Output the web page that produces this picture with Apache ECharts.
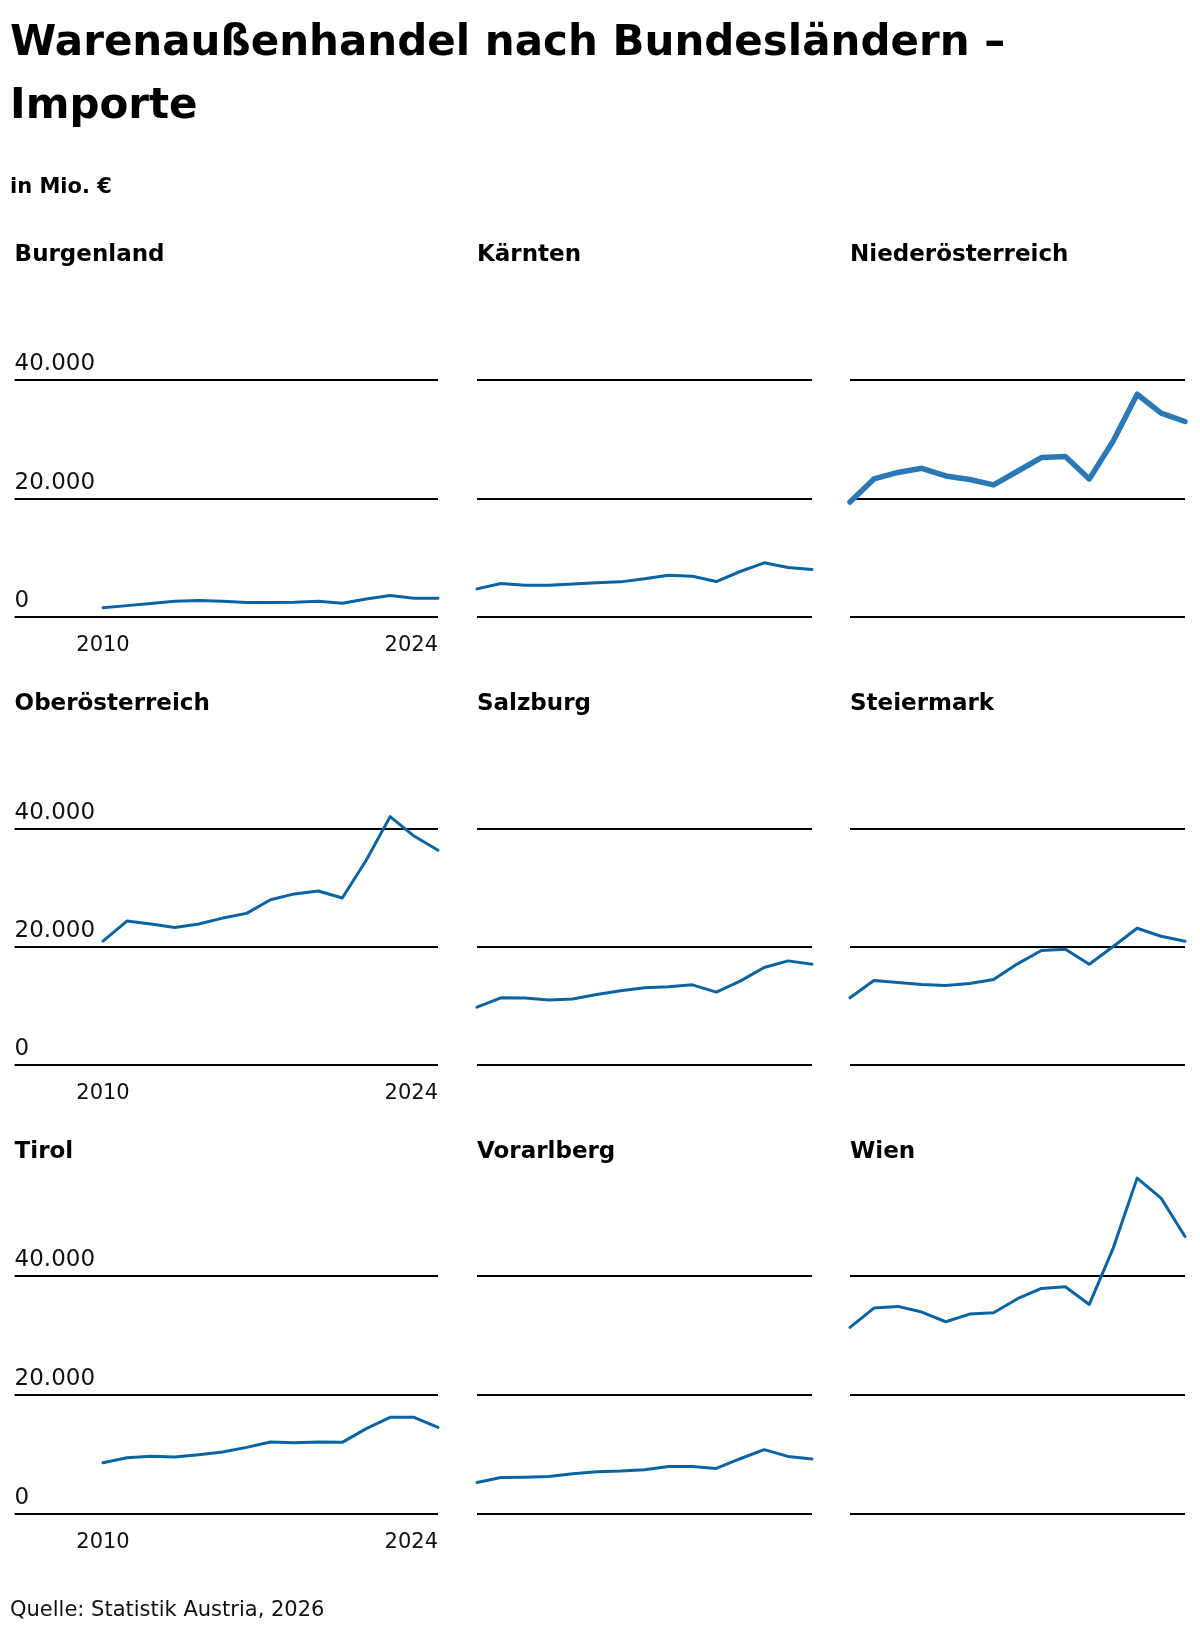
<!DOCTYPE html>
<html>
<head>
<meta charset="utf-8">
<script src="https://cdn.jsdelivr.net/npm/echarts@6/dist/echarts.min.js"></script>
<style>
html,body{margin:0;padding:0;background:#ffffff;}
#chart{width:1200px;height:1638px;}
</style>
</head>
<body>
<div id="chart"></div>
<script>
// ---------- data ----------
const years = [2010,2011,2012,2013,2014,2015,2016,2017,2018,2019,2020,2021,2022,2023,2024];
const regions = ['Burgenland','Kärnten','Niederösterreich','Oberösterreich','Salzburg','Steiermark','Tirol','Vorarlberg','Wien'];
const burgenland      = [1580,1920,2260,2650,2770,2650,2430,2430,2490,2650,2320,3050,3620,3160,3160];
const kaernten        = [4750,5650,5370,5370,5590,5760,5930,6440,7060,6890,5990,7680,9150,8360,8020];
const niederoesterreich = [19400,23300,24400,25100,23800,23200,22300,24600,26900,27100,23300,29700,37600,34400,33000];
const oberoesterreich = [21000,24400,23900,23300,23900,24900,25700,28000,29000,29500,28300,34700,42100,38800,36400];
const salzburg        = [9810,11390,11340,11000,11170,11960,12580,13090,13250,13590,12350,14210,16530,17650,17090];
const steiermark      = [11390,14330,13990,13650,13480,13820,14500,17150,19400,19630,17090,20080,23180,21830,20980];
const tirol           = [8620,9460,9690,9580,9970,10420,11200,12100,11980,12100,12040,14340,16240,16240,14560];
const vorarlberg      = [5290,6140,6190,6310,6760,7090,7210,7430,8000,8000,7660,9290,10810,9680,9230];
const wien            = [31360,34610,34890,33940,32310,33600,33820,36180,37910,38190,35220,44690,56450,53090,46650];
const seriesValues = [burgenland,kaernten,niederoesterreich,oberoesterreich,salzburg,steiermark,tirol,vorarlberg,wien];
const yTicks = [0, 20000, 40000];
const xTickLabels = [2010, 2024];
const highlighted = 'Niederösterreich';

// ---------- layout ----------
const cols = [
  {left: 14.6, right: 438, dataStart: 103},
  {left: 477,  right: 812, dataStart: 477},
  {left: 850,  right: 1185, dataStart: 850}
];
const rows = [
  {top: 380, bottom: 617, titleTop: 244},
  {top: 829, bottom: 1065, titleTop: 693},
  {top: 1276, bottom: 1514, titleTop: 1141}
];
const FONT = '"DejaVu Sans", sans-serif';
const LINE_COLOR = '#0a64a2';
const HL_COLOR = '#2a79b6';

function fmt(v){ return String(v).replace(/\B(?=(\d{3})+(?!\d))/g, '.'); }

const grids = [], xAxes = [], yAxes = [], series = [];
const titles = [
  {text: 'Warenaußenhandel nach Bundesländern –\nImporte', left: 10, top: 13, padding: 0,
   textStyle: {fontFamily: FONT, fontWeight: 'bold', fontSize: 42, lineHeight: 63, color: '#000'}},
  {text: 'in Mio. €', left: 10, top: 177, padding: 0,
   textStyle: {fontFamily: FONT, fontWeight: 'bold', fontSize: 21, color: '#000'}},
  {text: 'Quelle: Statistik Austria, 2026', left: 10, top: 1600, padding: 0,
   textStyle: {fontFamily: FONT, fontWeight: 'normal', fontSize: 21, color: '#111'}}
];

regions.forEach((name, i) => {
  const c = cols[i % 3], r = rows[Math.floor(i / 3)];
  const first = (i % 3) === 0;
  const width = c.right - c.left;
  const step = (c.right - c.dataStart) / (years.length - 1);
  const xMin = years[0] - (c.dataStart - c.left) / step;
  grids.push({left: c.left, top: r.top, width: width, height: r.bottom - r.top, containLabel: false});
  titles.push({text: name, left: c.left, top: r.titleTop, padding: 0,
    textStyle: {fontFamily: FONT, fontWeight: 'bold', fontSize: 23, color: '#000'}});
  xAxes.push({
    type: 'value', gridIndex: i, min: xMin, max: years[years.length - 1],
    axisLine: {show: false}, axisTick: {show: false}, splitLine: {show: false},
    axisLabel: {
      show: first, customValues: xTickLabels, formatter: v => String(v),
      margin: 18, fontFamily: FONT, fontSize: 21, color: '#111',
      alignMaxLabel: 'right'
    }
  });
  yAxes.push({
    type: 'value', gridIndex: i, min: yTicks[0], max: yTicks[yTicks.length - 1],
    interval: yTicks[1] - yTicks[0],
    axisLine: {show: false}, axisTick: {show: false},
    splitLine: {show: true, lineStyle: {color: '#000', width: 2}},
    axisLabel: {
      show: first, inside: true, margin: 0, align: 'left', verticalAlign: 'bottom',
      padding: [0, 0, 4, 0], fontFamily: FONT, fontSize: 23, color: '#111',
      formatter: v => fmt(v)
    }
  });
  const hl = name === highlighted;
  series.push({
    type: 'line', name: name, xAxisIndex: i, yAxisIndex: i,
    data: years.map((y, k) => [y, seriesValues[i][k]]),
    showSymbol: false, symbol: 'none', clip: false, silent: true,
    lineStyle: {color: hl ? HL_COLOR : LINE_COLOR, width: hl ? 5.5 : 3, cap: 'round', join: 'round'}
  });
});

const chart = echarts.init(document.getElementById('chart'), null, {renderer: 'canvas'});
chart.setOption({
  backgroundColor: '#ffffff',
  animation: false,
  title: titles,
  grid: grids,
  xAxis: xAxes,
  yAxis: yAxes,
  series: series
});
</script>
</body>
</html>
